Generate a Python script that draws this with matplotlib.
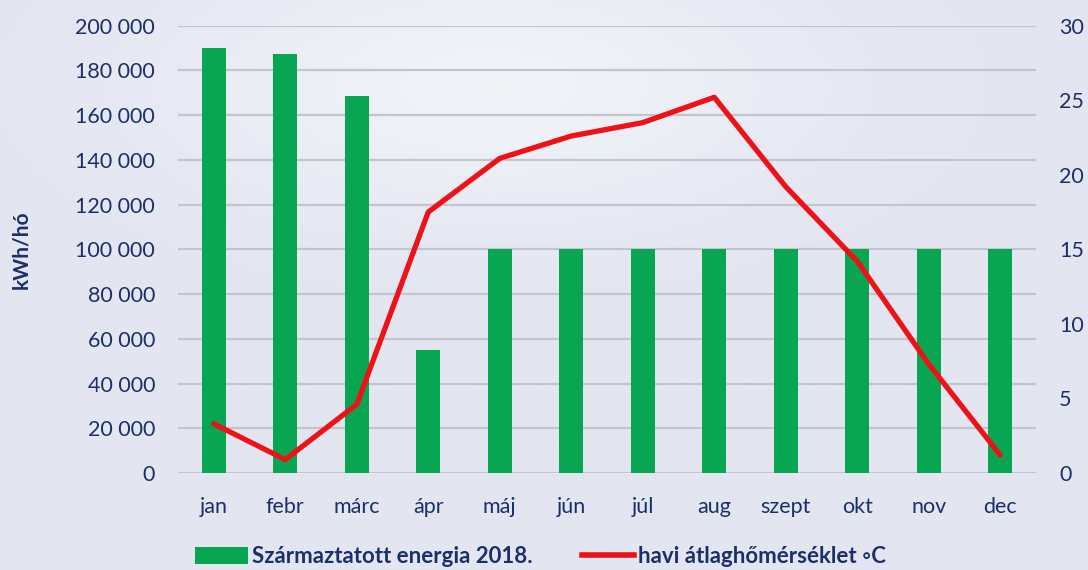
import matplotlib
matplotlib.use("Agg")
import matplotlib.pyplot as plt
import numpy as np
from matplotlib.patches import Patch
from matplotlib.lines import Line2D
from matplotlib.colors import LinearSegmentedColormap

months = ["jan", "febr", "márc", "ápr", "máj", "jún", "júl", "aug", "szept", "okt", "nov", "dec"]
energy = [190000, 187500, 168500, 55000, 100000, 100000, 100000, 100000, 100000, 100000, 100000, 100000]
temperature = [3.3, 0.9, 4.6, 17.5, 21.1, 22.6, 23.5, 25.2, 19.2, 14.2, 7.3, 1.2]
y_ticks = [0, 20000, 40000, 60000, 80000, 100000, 120000, 140000, 160000, 180000, 200000]
y_tick_labels = ["0", "20 000", "40 000", "60 000", "80 000", "100 000", "120 000",
                 "140 000", "160 000", "180 000", "200 000"]
t_ticks = [0, 5, 10, 15, 20, 25, 30]

navy = "#1B2F6B"
green = "#08A653"
red = "#EE1118"
plt.rcParams['font.family'] = ['Lato', 'DejaVu Sans']

fig = plt.figure(figsize=(10.88, 5.70), dpi=100)
fig.patch.set_facecolor("#E6E9F3")

# subtle background gradient
bg = fig.add_axes([0, 0, 1, 1], zorder=-10)
yy, xx = np.mgrid[0:1:200j, 0:1:300j]
grad = 0.5 + 0.5 * np.exp(-((xx - 0.45) ** 2 / 0.08 + (yy - 0.85) ** 2 / 0.05))
cmap = LinearSegmentedColormap.from_list("bg", ["#E3E6F1", "#F1F3F8"])
bg.imshow(grad, cmap=cmap, aspect="auto", extent=[0, 1, 0, 1], origin="lower")
bg.axis("off")

ax = fig.add_axes([0.1636, 0.1702, 0.9522 - 0.1636, 0.9549 - 0.1702])
ax.set_facecolor("none")
x = np.arange(len(months))
ax.bar(x, energy, width=0.335, color=green, zorder=2)
ax.set_xlim(-0.5, len(months) - 0.5)
ax.set_ylim(0, 200000)
ax.set_yticks(y_ticks)
ax.set_yticklabels(y_tick_labels)
ax.set_xticks(x)
ax.set_xticklabels(months)
ax.grid(axis="y", color="#C3C5CE", linewidth=1.6, zorder=0)
ax.set_axisbelow(True)
for s in ax.spines.values():
    s.set_visible(False)
ax.tick_params(axis="both", length=0, labelsize=15.5, labelcolor=navy)
ax.tick_params(axis="y", pad=16.5)
ax.tick_params(axis="x", pad=17)
ax.set_ylabel("kWh/hó", fontsize=15, fontweight="bold", color=navy, labelpad=32)

ax2 = ax.twinx()
ax2.plot(x, temperature, color=red, linewidth=3.8, zorder=3, solid_capstyle="round")
ax2.set_ylim(0, 30)
ax2.set_yticks(t_ticks)
for s in ax2.spines.values():
    s.set_visible(False)
ax2.tick_params(axis="y", length=0, labelsize=15.5, labelcolor=navy, pad=16.5)

handles = [Patch(facecolor=green, edgecolor="none"),
           Line2D([0], [0], color=red, linewidth=4)]
labels = ["Származtatott energia 2018.", "havi átlaghőmérséklet ◦C"]
leg = fig.legend(handles, labels, loc="lower center", bbox_to_anchor=(0.497, -0.03), ncol=2,
                 frameon=False, handlelength=2.35, handleheight=0.85, handletextpad=0.2,
                 columnspacing=2.2, prop={"size": 16, "weight": "bold"})
for t in leg.get_texts():
    t.set_color(navy)

fig.savefig("out.png", dpi=100, facecolor=fig.get_facecolor())
